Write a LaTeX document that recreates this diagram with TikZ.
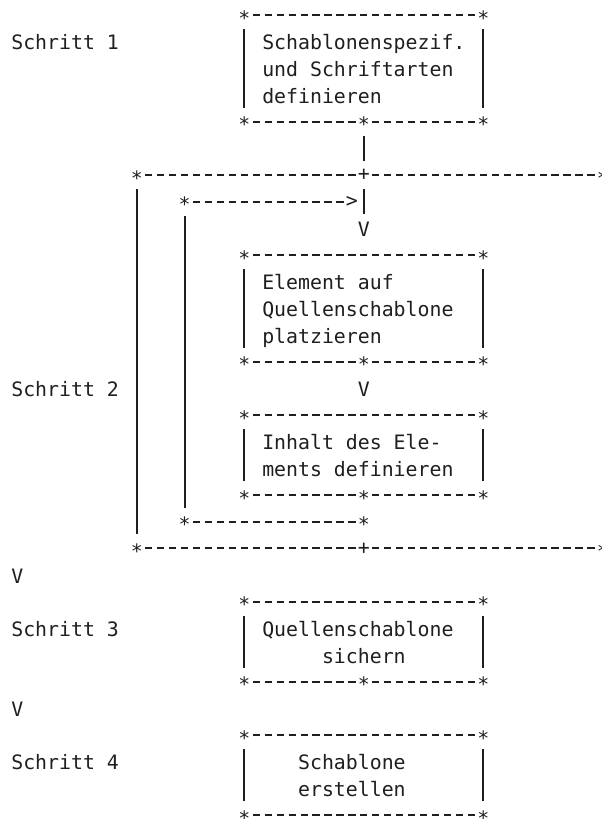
\documentclass[tikz,border=0pt]{standalone}
\usepackage{fontspec}
\newfontfamily\monofam{DejaVu Sans Mono}[Ligatures=TeXOff]
\definecolor{ink}{gray}{0.12}
\tikzset{
  txt/.style={anchor=base west, inner sep=0pt, outer sep=0pt, text=ink,
    font=\monofam\fontsize{19.85}{24}\selectfont},
  bar/.style={line width=1.8pt, draw=ink},
  dsh/.style={line width=1.8pt, draw=ink},
}
\begin{document}
\begin{tikzpicture}[x=11.95pt,y=-26.667pt]
\useasboundingbox[fill=white] (-1.448,-0.5625) rectangle (48.845,30.149);
% text: baseline at r+0.311, left edge at c-0.5
\def\T#1#2#3#4{\node[txt] (#1) at ({#2-0.5},{#3+0.311}) {#4};}
% corner star, plus and arrow head glyphs
\def\S#1#2{\node[txt] at ({#1-0.5},{#2+0.38}) {*};}
\def\P#1#2{\node[txt] at ({#1-0.5},{#2+0.22}) {+};}
\def\G#1#2{\node[txt] at ({#1-0.5},{#2+0.22}) {>};}
% dashes from column #2 to #3 on row #1 (snapped to the pixel grid)
\def\H#1#2#3{\pgfmathsetmacro\yy{(round(15+26.667*#1)-15)/26.667}%
  \foreach \c in {#2,...,#3} {\draw[dsh] ({\c-0.3},\yy) -- ({\c+0.3},\yy);}}
% full box edge / split box edge / loop frame edge
\def\Full#1{\S{19}{#1}\H{#1}{20}{38}\S{39}{#1}}
\def\Split#1{\S{19}{#1}\H{#1}{20}{28}\S{29}{#1}\H{#1}{30}{38}\S{39}{#1}}
\def\Frame#1{\S{10}{#1}\H{#1}{11}{28}\P{29}{#1}\H{#1}{30}{48}\S{49}{#1}}
% Step 1
\Full{0}
\T{s1}{0}{1}{Schritt 1}
\T{t1a}{21}{1}{Schablonenspezif.}
\T{t1b}{21}{2}{und Schriftarten}
\T{t1c}{21}{3}{definieren}
\Split{4}
% loop frame
\Frame{6}
\S{14}{7}\H{7}{15}{27}\G{28}{7}
\T{v1}{29}{8}{V}
% Step 2 box A
\Full{9}
\T{t2a}{21}{10}{Element auf}
\T{t2b}{21}{11}{Quellenschablone}
\T{t2c}{21}{12}{platzieren}
\Split{13}
\T{s2}{0}{14}{Schritt 2}
\T{v2}{29}{14}{V}
% Step 2 box B
\Full{15}
\T{t3a}{21}{16}{Inhalt des Ele-}
\T{t3b}{21}{17}{ments definieren}
\Split{18}
\S{14}{19}\H{19}{15}{28}\S{29}{19}
\Frame{20}
\T{v3}{0}{21}{V}
% Step 3
\Full{22}
\T{s3}{0}{23}{Schritt 3}
\T{t4a}{21}{23}{Quellenschablone}
\T{t4b}{26}{24}{sichern}
\Split{25}
\T{v4}{0}{26}{V}
% Step 4
\Full{27}
\T{s4}{0}{28}{Schritt 4}
\T{t5a}{24}{28}{Schablone}
\T{t5b}{24}{29}{erstellen}
\Full{30}
% vertical bars (snapped to the pixel grid)
\def\V#1#2#3{\pgfmathsetmacro\xx{(round(17.3+11.95*#1)-17.3)/11.95}%
  \draw[bar] (\xx,{#2-0.47}) -- (\xx,{#3+0.47});}
\V{19}{1}{3}\V{39}{1}{3}
\V{29}{5}{5}
\V{29}{7}{7}
\V{10}{7}{19}
\V{14}{8}{18}
\V{19}{10}{12}\V{39}{10}{12}
\V{19}{16}{17}\V{39}{16}{17}
\V{19}{23}{24}\V{39}{23}{24}
\V{19}{28}{29}\V{39}{28}{29}
\end{tikzpicture}
\end{document}
